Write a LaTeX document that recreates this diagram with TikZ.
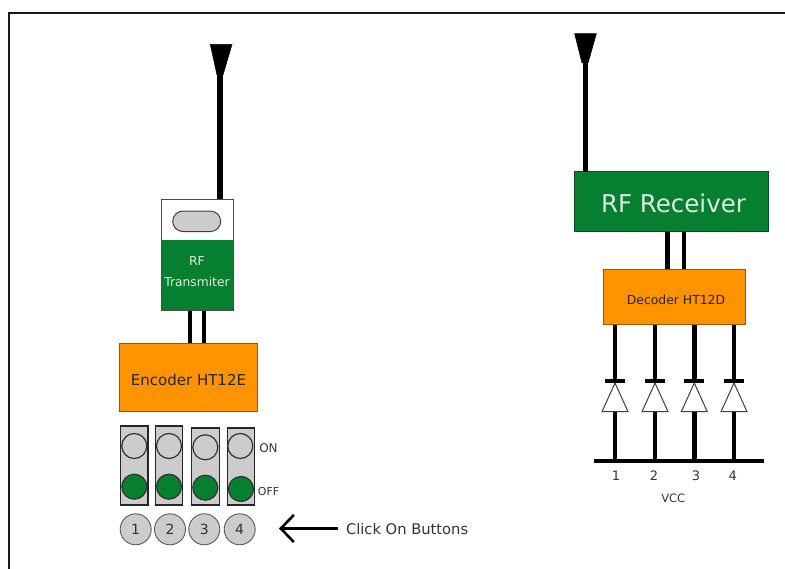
\documentclass[tikz,border=0pt]{standalone}
\usepackage{fontspec}
\setmainfont{DejaVu Sans}
\usetikzlibrary{arrows.meta,shapes.misc}
\definecolor{rfgreen}{HTML}{067F31}
\definecolor{icorange}{HTML}{FF9300}
\definecolor{swgrey}{HTML}{CCCCCC}
\definecolor{txtgrey}{HTML}{333333}
\tikzset{
  x=1pt,y=-1pt,
  every node/.style={outer sep=0pt,inner sep=0pt},
  box/.style={rectangle,draw=#1!60!black,line width=1pt,fill=#1},
  switchbody/.style={rectangle,draw=black!85,line width=1.2pt,fill=swgrey,minimum width=27.5,minimum height=78},
  lamp/.style={circle,draw=black!80,line width=1.2pt,minimum size=25},
  numbutton/.style={circle,draw=black!65,line width=.9pt,fill=swgrey,minimum size=31,font=\fontsize{14}{14}\selectfont,text=txtgrey},
  wire/.style={line width=#1,black},
  wire/.default=4.5,
  lbl/.style={font=\fontsize{#1}{#1}\selectfont,text=txtgrey},
}
\begin{document}
\begin{tikzpicture}
\useasboundingbox (0,0) rectangle (785,569);
% frame
\coordinate (fa) at (9,569);
\coordinate (fb) at (9,13);
\coordinate (fc) at (785,13);
\draw[line width=1.4pt,black!90] (fa) -- (fb) -- (fc);

% left antenna and transmitter
\node[rectangle,draw=black!70,line width=1pt,fill=white,minimum width=72.5,minimum height=111.5] (tx) at (197.5,255) {};
\node[rectangle,fill=rfgreen,minimum width=71.5,minimum height=70.5] (txg) at (197.5,275.3) {};
\draw[black!70,line width=1pt] (tx.north west) rectangle (tx.south east);
\node[rounded rectangle,draw=black!75,line width=1pt,fill=swgrey,minimum width=48,minimum height=20.5] (pill) at (196.7,221.3) {};
\node[align=center,text=white!85!rfgreen,font=\fontsize{12.3}{21}\selectfont] (txt) at (197,272) {RF\\Transmiter};
\coordinate (lant) at (220,75);
\filldraw[black,line width=.5pt] (210.3,44.5) -- (232,44.5) -- (223,75) -- (217,75) -- cycle;
\draw[wire=5.5] (lant) -- (lant |- tx.north);

\node[box=icorange,minimum width=138,minimum height=68.5] (enc) at (188.5,377.5) {};
\node[font=\fontsize{15}{16}\selectfont,text=black!85] (enct) at (188.5,380) {Encoder HT12E};
\coordinate (w1) at (190,0);
\coordinate (w2) at (204,0);
\draw[wire=4.5] (w1 |- txg.south) -- (w1 |- enc.north);
\draw[wire=3.5] (w2 |- txg.south) -- (w2 |- enc.north);

% switches
\node[switchbody,minimum height=79] (s1) at (134.3,465.5) {};
\node[switchbody,minimum height=79] (s2) at (169,465.5) {};
\node[switchbody,minimum height=77] (s3) at (205.5,466.5) {};
\node[switchbody,minimum height=77] (s4) at (241,466.5) {};
\node[lamp,fill=swgrey] (on1) at (134.3,446) {};
\node[lamp,fill=swgrey] (on2) at (169,446) {};
\node[lamp,fill=swgrey] (on3) at (205.3,447.3) {};
\node[lamp,fill=swgrey] (on4) at (240.3,446) {};
\node[lamp,fill=rfgreen] (off1) at (134.3,486.7) {};
\node[lamp,fill=rfgreen] (off2) at (169,486.7) {};
\node[lamp,fill=rfgreen] (off3) at (205.3,487.7) {};
\node[lamp,fill=rfgreen] (off4) at (241,489) {};
\node[lbl=12] (onl) at (268.5,447.7) {ON};
\node[lbl=11] (offl) at (268.5,491) {OFF};

% numbered buttons
\node[numbutton] (b1) at (135.7,529.3) {1};
\node[numbutton] (b2) at (170,529.3) {2};
\node[numbutton] (b3) at (204.3,529.3) {3};
\node[numbutton] (b4) at (239.7,529.3) {4};

\node[lbl=14.7,anchor=west] (click) at (346,529) {Click On Buttons};
\coordinate (tip) at (279,528.5);
\coordinate (tail) at (338,528.5);
\draw[line width=2.6pt,black,-{Straight Barb[length=13pt,width=27pt,line width=2.6pt]}] (tail) -- (tip);

% right side
\node[box=rfgreen,minimum width=194,minimum height=60] (rx) at (671.3,201.7) {};
\node[text=white!85!rfgreen,font=\fontsize{24.5}{25}\selectfont] (rxt) at (673.5,203) {RF Receiver};
\coordinate (rant) at (585,63);
\filldraw[black,line width=.5pt] (574.6,33.6) -- (596.4,33.6) -- (588,63) -- (582,63) -- cycle;
\draw[wire=5] (rant) -- (rant |- rx.north);

\node[box=icorange,minimum width=141.7,minimum height=55.7] (dec) at (674.2,296.9) {};
\node[font=\fontsize{12.4}{13}\selectfont,text=black!85] (dect) at (676,300) {Decoder HT12D};
\coordinate (w3) at (667.3,0);
\coordinate (w4) at (684,0);
\draw[wire=5] (w3 |- rx.south) -- (w3 |- dec.north);
\draw[wire=4] (w4 |- rx.south) -- (w4 |- dec.north);

% bus
\coordinate (busl) at (594,460.7);
\coordinate (busr) at (764,460.7);
\draw[wire=4] (busl) -- (busr);

% diodes
\foreach \n/\X in {1/615,2/655,3/694.3,4/734}{
  \coordinate (bar\n) at (\X,381.5);
  \coordinate (base\n) at (\X,411.7);
  \coordinate (apex\n) at (\X,383);
  \draw[wire=4.5] (\X,324.7) -- (bar\n);
  \draw[wire=4.5] (base\n) -- (base\n |- busl);
  \filldraw[fill=white,draw=black!75,line width=1pt] (apex\n) -- (\X+13,411.7) -- (\X-13,411.7) -- cycle;
  \draw[line width=4pt,black] (\X-10,381) -- (\X+10,381);
}
\node[lbl=13] (n1) at (616,475.5) {1};
\node[lbl=13] (n2) at (654,475.5) {2};
\node[lbl=13] (n3) at (696,475.5) {3};
\node[lbl=13] (n4) at (732.7,475.5) {4};
\node[lbl=11.5] (vcc) at (673.3,498.5) {VCC};
\end{tikzpicture}
\end{document}
